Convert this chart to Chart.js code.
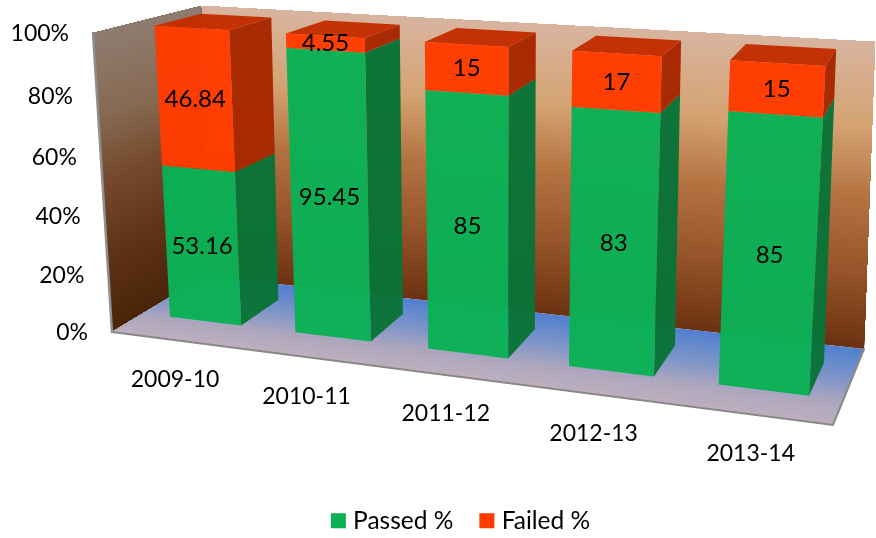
<!DOCTYPE html>
<html>
<head>
<meta charset="utf-8">
<style>html,body{margin:0;padding:0;background:#fff}canvas{display:block}</style>
<script src="https://cdn.jsdelivr.net/npm/chart.js@4"></script>
</head>
<body>
<canvas id="c" width="876" height="538"></canvas>
<script>
const categories = ['2009-10', '2010-11', '2011-12', '2012-13', '2013-14'];
const passedPct = [53.16, 95.45, 85, 83, 85];
const failedPct = [46.84, 4.55, 15, 17, 15];
const yTickStep = 20;
const yMax = 100;

// Box corners of the 3-D stage on the page: [front|back][bottom|top][left|right]
const FBL=[112,332],FBR=[833,425],FTL=[93,33],FTR=[855,81];
const BBL=[205,276],BBR=[864,349],BTL=[201,6],BTR=[875,42];
const W_FRONT=.67, W_BACK=.23;
const mix=(a,b,k)=>[a[0]+(b[0]-a[0])*k,a[1]+(b[1]-a[1])*k];
const warpU=t=>t/(t+1.16*(1-t));
const warpV=v=>v/(v+1.05*(1-v));
// u across, v up, w toward the viewer, all 0..1
function P(u,v,w){
  const back=mix(mix(BBL,BBR,u),mix(BTL,BTR,u),v);
  const front=mix(mix(FBL,FBR,u),mix(FTL,FTR,u),v);
  return mix(back,front,w);
}
// same projection with the small lean the bars have toward the upper left
function PB(u,v,w){
  const p=P(u,v,w);
  return [p[0]-2.5*v*Math.min(1,(1-u)/.4)+1.5*(1-u),p[1]];
}
function poly(ctx,pts,fill){
  ctx.beginPath();
  pts.forEach((p,i)=>i?ctx.lineTo(p[0],p[1]):ctx.moveTo(p[0],p[1]));
  ctx.closePath();
  ctx.fillStyle=fill;
  ctx.fill();
}
function ramp(stops,k){
  for(let i=1;i<stops.length;i++){
    if(k<=stops[i][0]){
      const a=stops[i-1],b=stops[i],f=(k-a[0])/(b[0]-a[0]);
      const c=[0,1,2].map(j=>Math.round(a[1][j]+(b[1][j]-a[1][j])*f));
      return `rgb(${c[0]},${c[1]},${c[2]})`;
    }
  }
  const l=stops[stops.length-1][1];
  return `rgb(${l[0]},${l[1]},${l[2]})`;
}
const BACK_RAMP=[[0,[108,50,16]],[.25,[150,85,42]],[.5,[180,116,66]],[.72,[212,163,113]],[1,[216,180,160]]];
const LEFT_RAMP=[[0,[74,37,9]],[.25,[94,51,22]],[.5,[116,73,44]],[.72,[135,106,82]],[1,[143,124,112]]];
const FLOOR_RAMP=[[0,[80,128,208]],[.4,[126,149,200]],[.72,[174,168,190]],[1,[189,176,190]]];
// each strip paints from its start to the far end, so no seams show
function strips(ctx,n,quad,colorAt){
  for(let i=0;i<n;i++){
    poly(ctx,quad(i/n),colorAt((i+.5)/n));
  }
}
function drawStage(ctx){
  strips(ctx,200,a=>[P(0,a,0),P(1,a,0),P(1,1,0),P(0,1,0)],k=>ramp(BACK_RAMP,k));
  strips(ctx,200,a=>[P(0,a,0),P(0,a,1),P(0,1,1),P(0,1,0)],k=>ramp(LEFT_RAMP,k));
  strips(ctx,100,a=>[P(0,0,a),P(1,0,a),P(1,0,1),P(0,0,1)],k=>ramp(FLOOR_RAMP,k));
  ctx.strokeStyle='#8b8688';ctx.lineWidth=2;ctx.lineCap='round';
  ctx.beginPath();
  const a=P(0,0,1),b=P(1,0,1),c=P(1,0,0);
  ctx.moveTo(a[0],a[1]);ctx.lineTo(b[0],b[1]);ctx.lineTo(c[0],c[1]);ctx.stroke();
  const d=P(0,1,1);
  ctx.strokeStyle='#8e8e8e';ctx.lineWidth=2.5;
  ctx.beginPath();ctx.moveTo(d[0],d[1]);ctx.lineTo(a[0],a[1]);ctx.stroke();
}
const SHADES={0:{side:'#0a7338',top:'#0b8a44'},1:{side:'#a82800',top:'#c42e00'}};
const stagePlugin={
  id:'stage',
  beforeDatasetsDraw(chart){
    const ctx=chart.ctx,xs=chart.scales.x,ys=chart.scales.y;
    const tOf=px=>(px-xs.left)/(xs.right-xs.left);
    const vOf=px=>(ys.bottom-px)/(ys.bottom-ys.top);
    ctx.save();
    drawStage(ctx);
    const nBars=chart.data.labels.length,nSets=chart.data.datasets.length;
    const texts=[];
    for(let i=0;i<nBars;i++){
      for(let s=0;s<nSets;s++){
        const el=chart.getDatasetMeta(s).data[i];
        const ds=chart.data.datasets[s];
        const u0=warpU(tOf(el.x-el.width/2)),u1=warpU(tOf(el.x+el.width/2));
        const v0=warpV(vOf(el.base)),v1=warpV(vOf(el.y));
        ctx.globalAlpha=.975;
        poly(ctx,[PB(u1,v0,W_FRONT),PB(u1,v0,W_BACK),PB(u1,v1,W_BACK),PB(u1,v1,W_FRONT)],SHADES[s].side);
        if(s===nSets-1)poly(ctx,[PB(u0,v1,W_FRONT),PB(u1,v1,W_FRONT),PB(u1,v1,W_BACK),PB(u0,v1,W_BACK)],SHADES[s].top);
        poly(ctx,[PB(u0,v0,W_FRONT),PB(u1,v0,W_FRONT),PB(u1,v1,W_FRONT),PB(u0,v1,W_FRONT)],ds.backgroundColor);
        ctx.globalAlpha=1;
        const mid=warpV((vOf(el.base)+vOf(el.y))/2);
        texts.push([String(ds.data[i]),PB((u0+u1)/2,mid,W_FRONT)]);
      }
    }
    ctx.font='24px Lato';ctx.fillStyle='#000';
    ctx.textAlign='center';ctx.textBaseline='middle';
    texts.forEach(([s,p])=>ctx.fillText(s,p[0],p[1]));
    ctx.font='23px Lato';
    // category axis labels along the front edge of the floor
    xs.ticks.forEach((tick,i)=>{
      const p=P(warpU(tOf(xs.getPixelForTick(i))),0,1);
      ctx.fillText(tick.label,p[0],p[1]+39);
    });
    // value axis labels along the front edge of the left wall
    ctx.textAlign='right';
    ys.ticks.forEach(tick=>{
      const p=P(0,warpV(vOf(ys.getPixelForValue(tick.value))),1);
      ctx.fillText(tick.label,p[0]-24,p[1]+1);
    });
    ctx.restore();
    return false;
  }
};
new Chart(document.getElementById('c'),{
  type:'bar',
  data:{
    labels:categories,
    datasets:[
      {label:'Passed %',data:passedPct,backgroundColor:'#0bb055',borderColor:'#0bb055',borderWidth:10},
      {label:'Failed %',data:failedPct,backgroundColor:'#ff3b00',borderColor:'#ff3b00',borderWidth:10}
    ]
  },
  options:{
    responsive:false,
    animation:false,
    layout:{padding:{left:50,bottom:-5}},
    datasets:{bar:{barPercentage:.575,categoryPercentage:1}},
    scales:{
      x:{stacked:true,display:false},
      y:{stacked:true,display:false,min:0,max:yMax,ticks:{stepSize:yTickStep,callback:v=>v+'%'}}
    },
    plugins:{
      tooltip:{enabled:false},
      legend:{
        position:'bottom',
        labels:{boxWidth:5,boxHeight:5,padding:31,color:'#000',font:{family:'Lato',size:24.5}}
      }
    }
  },
  plugins:[stagePlugin]
});
</script>
</body>
</html>
